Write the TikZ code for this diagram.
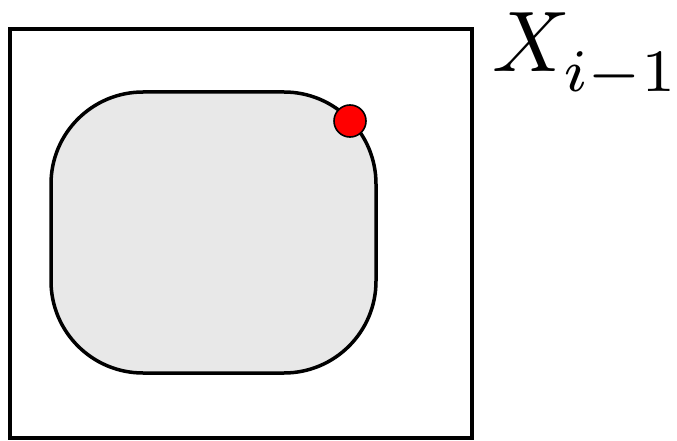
\documentclass[tikz,border=0pt]{standalone}
\begin{document}
\begin{tikzpicture}[x=1pt,y=1pt,
  outerbox/.style={draw=black,line width=3.5pt},
  innerbox/.style={draw=black,fill=black!9,line width=3.5pt,rounded corners=92pt},
  reddot/.style={circle,draw=black,fill=red,line width=1.6pt,minimum size=32pt,inner sep=0pt},
  lbl/.style={inner sep=0pt,anchor=base west}]
\useasboundingbox (0,0) rectangle (677,440);
\draw[outerbox] (10,411) rectangle (472,2);
\draw[innerbox] (51,348) rectangle (376,67);
\node[reddot] (p) at (350,319) {};
\node[lbl] (x) at (492,368) {\scalebox{8.6}{$X_{\lower0.8pt\hbox{$\scriptstyle i-1$}}$}};
\end{tikzpicture}
\end{document}
